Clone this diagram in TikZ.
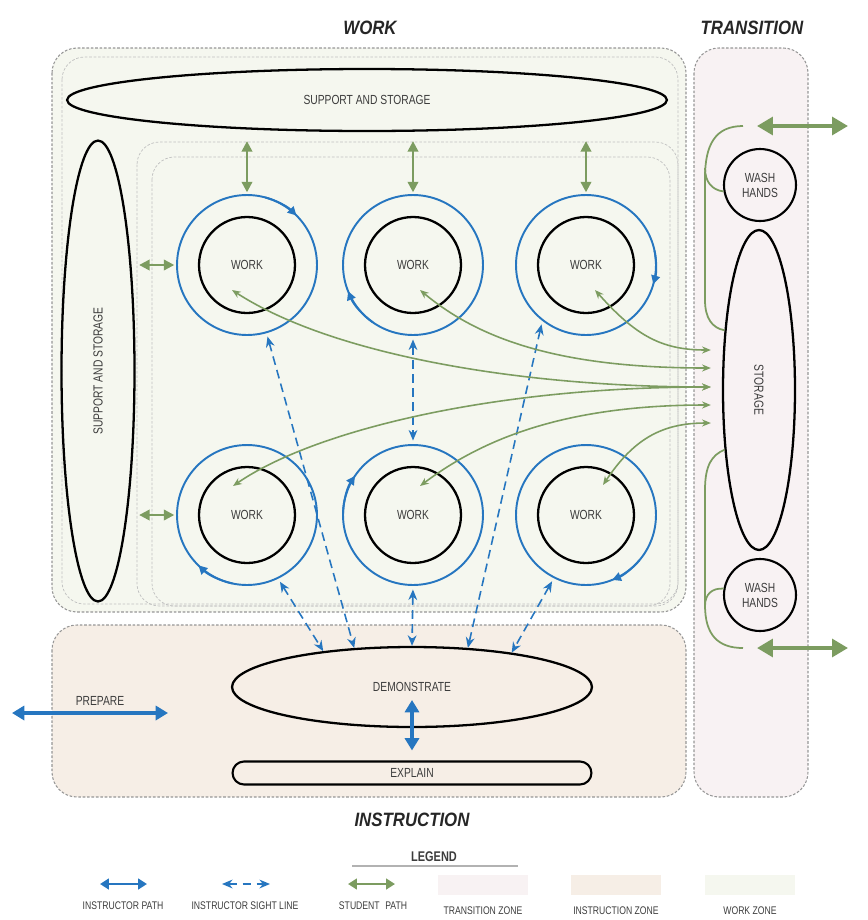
\documentclass[tikz,border=0pt]{standalone}
\usepackage{fontspec}
\setmainfont{Liberation Sans}
\newfontfamily\lblfont[FakeStretch=0.78]{Liberation Sans}
\newfontfamily\ttlfont[FakeStretch=0.87]{Liberation Sans}
\usepackage{graphicx}
\usepackage{tikz}
\usetikzlibrary{positioning,shapes.geometric,arrows.meta}

\definecolor{ipathblue}{RGB}{38,118,192}
\definecolor{spathgreen}{RGB}{124,156,96}
\definecolor{workzone}{RGB}{245,247,239}
\definecolor{instrzone}{RGB}{246,238,230}
\definecolor{transzone}{RGB}{248,242,243}
\definecolor{zoneline}{RGB}{150,150,150}
\definecolor{lbltext}{RGB}{60,60,60}

\begin{document}
\begin{tikzpicture}[x=0.02cm,y=0.02cm,
  lbl/.style={font=\lblfont\fontsize{7.5}{8.5}\selectfont,text=lbltext,align=center},
  leglbl/.style={font=\lblfont\fontsize{6.3}{7}\selectfont,text=lbltext},
  ttl/.style={font=\ttlfont\bfseries\itshape\fontsize{11}{13}\selectfont,text=black!85},
  zone/.style={draw=zoneline,line width=0.6pt,dash pattern=on 1.5pt off 1pt,rounded corners=0.5cm},
  subzone/.style={draw=zoneline!60,line width=0.4pt,dash pattern=on 1.5pt off 1pt,rounded corners=0.45cm},
  blob/.style={ellipse,draw=black,line width=1.3pt,inner sep=0pt,lbl},
  work/.style={circle,draw=black,line width=1.3pt,minimum size=1.92cm,inner sep=0pt,lbl},
  ring/.style={circle,draw=ipathblue,line width=1.1pt,minimum size=2.8cm,inner sep=0pt},
  wash/.style={circle,draw=black,line width=1.2pt,minimum size=1.44cm,inner sep=0pt,lbl},
  swatch/.style={rectangle,minimum width=1.8cm,minimum height=0.4cm,inner sep=0pt},
  ringtip/.style={ipathblue,line width=1.1pt,-{Triangle[length=5pt,width=5pt]}},
  ipath/.style={ipathblue,line width=2.2pt,{Triangle[length=7pt,width=8pt]}-{Triangle[length=7pt,width=8pt]}},
  isight/.style={ipathblue,line width=0.9pt,dash pattern=on 5pt off 3pt,{Stealth[length=6pt,width=5pt]}-{Stealth[length=6pt,width=5pt]}},
  spath/.style={spathgreen,line width=1.3pt,{Triangle[length=6pt,width=6pt]}-{Triangle[length=6pt,width=6pt]}},
  bigspath/.style={spathgreen,line width=2.2pt,{Triangle[length=9pt,width=10pt]}-{Triangle[length=9pt,width=10pt]}},
  scurve/.style={spathgreen,line width=0.9pt,{Stealth[length=5pt,width=4pt]}-{Stealth[length=5pt,width=4pt]}},
  tline/.style={spathgreen,line width=1pt}]

    \useasboundingbox (0,0) rectangle (867,-920);

    % Zones
    \draw[zone,fill=workzone] (52,-48) rectangle (686,-612);
    \draw[zone,fill=instrzone] (52,-625) rectangle (686,-797);
    \draw[zone,fill=transzone] (694,-48) rectangle (808,-797);
    \draw[subzone] (62,-57) rectangle (678,-604);
    \draw[subzone] (137,-142) rectangle (678,-606);
    \draw[subzone] (152,-157) rectangle (670,-606);

    % Titles
    \node[ttl] (ttlwork) at (370,-28) {WORK};
    \node[ttl] (ttltrans) at (752,-28) {TRANSITION};
    \node[ttl] (ttlinstr) at (412,-820) {INSTRUCTION};

    % Support and storage
    \node[blob,minimum width=12cm,minimum height=1.24cm] (sup) at (367,-100) {SUPPORT AND STORAGE};
    \node[blob,minimum width=1.46cm,minimum height=9.22cm] (side) at (98,-371) {\rotatebox{90}{SUPPORT AND STORAGE}};

    % Work stations
    \node[work] (w1) at (247,-265) {WORK};
    \node[work] (w2) at (413,-265) {WORK};
    \node[work] (w3) at (586,-265) {WORK};
    \node[work] (w4) at (247,-515) {WORK};
    \node[work] (w5) at (413,-515) {WORK};
    \node[work] (w6) at (586,-515) {WORK};
    \foreach \n in {1,...,6}
        \node[ring] (r\n) at (w\n) {};
    \foreach \n/\a/\b in {1/75/45, 2/235/202, 3/12/-16, 4/258/226, 5/178/146, 6/320/292}
        \draw[ringtip] ([shift={(\a:1.4cm)}]r\n.center) arc (\a:\b:1.4cm);

    % Transition
    \node[blob,minimum width=1.44cm,minimum height=6.4cm] (stor) at (759,-390) {\rotatebox{-90}{STORAGE}};
    \node[wash] (wash1) at (760,-185) {WASH\\HANDS};
    \node[wash] (wash2) at (760,-595) {WASH\\HANDS};

    % Instruction
    \node[blob,minimum width=7.2cm,minimum height=1.6cm] (demo) at (412,-687) {DEMONSTRATE};
    \node[lbl,draw=black,line width=1.2pt,rounded corners=0.23cm,minimum width=7.18cm,minimum height=0.46cm,inner sep=0pt] (expl) at (412,-773) {EXPLAIN};
    \node[lbl] (prep) at (100,-701) {PREPARE};

    % Instructor paths
    \coordinate (prepL) at (12,-713);
    \coordinate (prepR) at (168,-713);
    \coordinate (demoC) at (412,-700);
    \draw[ipath] (prepL) -- (prepR);
    \draw[ipath,shorten >=0.2cm] (demoC) -- (expl.north);

    % Sight lines
    \draw[isight,shorten <=2pt] (r1.-74) -- (demo.146);
    \draw[isight,shorten <=2pt,shorten >=2pt] (r2.south) -- (r5.north);
    \draw[isight,shorten <=2pt] (r3.232) -- (demo.35);
    \draw[isight,shorten <=2pt] (r4.-64) -- (demo.158);
    \draw[isight,shorten <=2pt] (r5.south) -- (demo.north);
    \draw[isight,shorten <=2pt] (r6.243) -- (demo.19);

    % Student paths
    \foreach \n in {1,2,3}
        \draw[spath,shorten <=0.18cm,shorten >=1pt] (r\n.north |- sup.south) -- (r\n.north);
    \foreach \n in {1,4}
        \draw[spath,shorten <=2pt,shorten >=1pt] (side.east |- r\n.west) -- (r\n.west);

    \coordinate (t1) at ([shift={(-15,-25)}]w1.center);
    \coordinate (t2) at ([shift={(7,-25)}]w2.center);
    \coordinate (t3) at ([shift={(9,-25)}]w3.center);
    \coordinate (t4) at ([shift={(-14,29)}]w4.center);
    \coordinate (t5) at ([shift={(7,29)}]w5.center);
    \coordinate (t6) at ([shift={(17,30)}]w6.center);
    \coordinate (s1) at ([shift={(-11,40)}]stor.west);
    \coordinate (s2) at ([shift={(-11,22)}]stor.west);
    \coordinate (s3) at ([shift={(-11,3)}]stor.west);
    \coordinate (s4) at ([shift={(-11,-15)}]stor.west);
    \coordinate (s5) at ([shift={(-11,-33)}]stor.west);
    \draw[scurve] (t1) .. controls +(100,-65) and +(-190,0) .. (s3);
    \draw[scurve] (t2) .. controls +(60,-50) and +(-150,0) .. (s2);
    \draw[scurve] (t3) .. controls +(40,-45) and +(-50,0) .. (s1);
    \draw[scurve] (t4) .. controls +(80,55) and +(-220,0) .. (s3);
    \draw[scurve] (t5) .. controls +(60,45) and +(-150,0) .. (s4);
    \draw[scurve] (t6) .. controls +(30,45) and +(-50,0) .. (s5);

    % Transition paths
    \coordinate (g1) at (743,-126);
    \coordinate (g2) at (743,-648);
    \coordinate (e1) at (757,-126);
    \coordinate (f1) at (848,-126);
    \coordinate (e2) at (757,-648);
    \coordinate (f2) at (848,-648);
    \draw[bigspath] (e1) -- (f1);
    \draw[bigspath] (e2) -- (f2);
    \draw[tline] (g1) .. controls (715,-126) and (705,-145) .. (705,-178) -- (705,-300) .. controls (705,-318) and (712,-328) .. (stor.120);
    \draw[tline] (705,-168) .. controls (705,-182) and (712,-190) .. (wash1.190);
    \draw[tline] (stor.240) .. controls (712,-455) and (705,-465) .. (705,-490) -- (705,-605) .. controls (705,-635) and (718,-648) .. (g2);
    \draw[tline] (705,-606) .. controls (705,-594) and (712,-588) .. (wash2.170);

    % Legend
    \node[lbl,font=\lblfont\bfseries\fontsize{8}{9}\selectfont] (leg) at (434,-857) {LEGEND};
    \draw[gray!60,line width=1.2pt] (352,-866) -- (518,-866);

    \coordinate (lip1) at (100,-884);
    \coordinate (lip2) at (147,-884);
    \coordinate (lis1) at (222,-884);
    \coordinate (lis2) at (270,-884);
    \coordinate (lsp1) at (348,-884);
    \coordinate (lsp2) at (395,-884);
    \draw[ipathblue,line width=1.6pt,{Triangle[length=5pt,width=6pt]}-{Triangle[length=5pt,width=6pt]}] (lip1) -- (lip2);
    \draw[isight] (lis1) -- (lis2);
    \draw[spathgreen,line width=1.2pt,{Triangle[length=5pt,width=6pt]}-{Triangle[length=5pt,width=6pt]}] (lsp1) -- (lsp2);
    \node[swatch,fill=transzone] (ltz) at (483,-885) {};
    \node[swatch,fill=instrzone] (liz) at (616,-885) {};
    \node[swatch,fill=workzone] (lwz) at (750,-885) {};

    \node[leglbl] (lipl) at (123,-906) {INSTRUCTOR PATH};
    \node[leglbl] (lisl) at (245,-906) {INSTRUCTOR SIGHT LINE};
    \node[leglbl] (lspl) at (373,-906) {STUDENT\enspace PATH};
    \node[leglbl,below=3pt of ltz] (ltzl) {TRANSITION ZONE};
    \node[leglbl,below=3pt of liz] (lizl) {INSTRUCTION ZONE};
    \node[leglbl,below=3pt of lwz] (lwzl) {WORK ZONE};

\end{tikzpicture}
\end{document}
